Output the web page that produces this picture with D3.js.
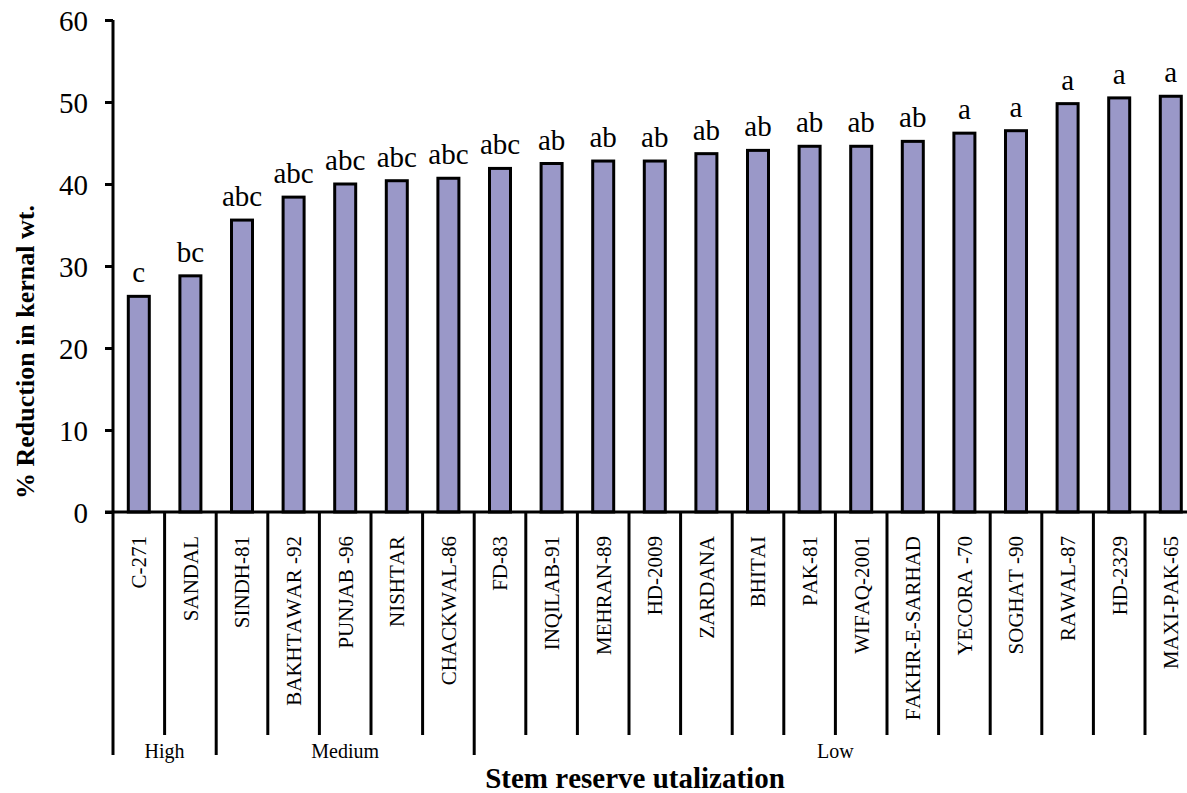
<!DOCTYPE html>
<html>
<head>
<meta charset="utf-8">
<script src="https://cdn.jsdelivr.net/npm/d3@7"></script>
<style>
  body { margin: 0; background: #fff; }
  text { font-family: "Liberation Serif", "Times New Roman", serif; fill: #000; font-kerning: none; }
</style>
</head>
<body>
<svg id="drawing_region"></svg>
<script>
// values
const cultivars = ["C-271", "SANDAL", "SINDH-81", "BAKHTAWAR -92", "PUNJAB -96", "NISHTAR",
  "CHACKWAL-86", "FD-83", "INQILAB-91", "MEHRAN-89", "HD-2009", "ZARDANA", "BHITAI",
  "PAK-81", "WIFAQ-2001", "FAKHR-E-SARHAD", "YECORA -70", "SOGHAT -90", "RAWAL-87",
  "HD-2329", "MAXI-PAK-65"];
const reduction = [26.3, 28.8, 35.6, 38.4, 40.0, 40.4, 40.7, 41.9, 42.5, 42.8, 42.8,
  43.7, 44.1, 44.6, 44.6, 45.2, 46.2, 46.5, 49.8, 50.5, 50.7];
const letters = ["c", "bc", "abc", "abc", "abc", "abc", "abc", "abc", "ab", "ab", "ab",
  "ab", "ab", "ab", "ab", "ab", "a", "a", "a", "a", "a"];
const groups = ["High", "Medium", "Low"];
const groupSizes = [2, 5, 14];
const yTicks = [0, 10, 20, 30, 40, 50, 60];

const config = {
  width: 1187,
  height: 793,
  left: 113,
  top: 20,
  bottom: 512,
  step: 51.6,
  barWidth: 21
};

const svg = d3.select('#drawing_region')
  .attr('width', config.width)
  .attr('height', config.height);

const xscale = d3.scaleBand()
  .domain(cultivars)
  .range([config.left, config.left + config.step * cultivars.length]);

const yscale = d3.scaleLinear()
  .domain([0, 60])
  .range([config.bottom, config.top]);

// bars
svg.selectAll('.bar')
  .data(cultivars)
  .join('rect')
  .attr('class', 'bar')
  .attr('x', d => xscale(d) + (xscale.bandwidth() - config.barWidth) / 2)
  .attr('y', (d, i) => yscale(reduction[i]))
  .attr('width', config.barWidth)
  .attr('height', (d, i) => yscale(0) - yscale(reduction[i]))
  .attr('fill', '#9a98c8')
  .attr('stroke', '#000')
  .attr('stroke-width', 3);

// significance letters
svg.selectAll('.letter')
  .data(cultivars)
  .join('text')
  .attr('class', 'letter')
  .attr('x', d => xscale(d) + xscale.bandwidth() / 2)
  .attr('y', (d, i) => yscale(reduction[i]) - 14)
  .attr('text-anchor', 'middle')
  .style('font-size', '29px')
  .text((d, i) => letters[i]);

// y axis
const yaxis = d3.axisLeft(yscale)
  .tickValues(yTicks)
  .tickSize(8)
  .tickPadding(17);

const yaxis_group = svg.append('g')
  .attr('transform', `translate(${config.left}, 0)`)
  .call(yaxis);
yaxis_group.select('.domain').attr('stroke-width', 3).attr('d', `M0,${config.top}V${config.bottom}`);
yaxis_group.selectAll('.tick line').attr('stroke-width', 3);
yaxis_group.selectAll('.tick text')
  .style('font-size', '29px')
  .style('font-family', '"Liberation Serif", serif')
  .attr('dy', '0.35em');

// x axis line
svg.append('line')
  .attr('x1', config.left - 8)
  .attr('x2', config.width)
  .attr('y1', yscale(0))
  .attr('y2', yscale(0))
  .attr('stroke', '#000')
  .attr('stroke-width', 3);

// category separators (long ones at group borders)
const borders = [0];
groupSizes.reduce((acc, n) => { borders.push(acc + n); return acc + n; }, 0);
const sepIndex = d3.range(cultivars.length + 1);
svg.selectAll('.sep')
  .data(sepIndex)
  .join('line')
  .attr('class', 'sep')
  .attr('x1', i => config.left + i * xscale.step())
  .attr('x2', i => config.left + i * xscale.step())
  .attr('y1', yscale(0))
  .attr('y2', i => borders.includes(i) ? 755 : 735)
  .attr('stroke', '#000')
  .attr('stroke-width', 3);

// category labels
svg.selectAll('.cat')
  .data(cultivars)
  .join('text')
  .attr('class', 'cat')
  .attr('transform', d => `translate(${xscale(d) + xscale.bandwidth() / 2}, 536) rotate(-90)`)
  .attr('text-anchor', 'end')
  .attr('dy', '0.35em')
  .style('font-size', '21px')
  .text(d => d);

// group labels
svg.selectAll('.grp')
  .data(groups)
  .join('text')
  .attr('class', 'grp')
  .attr('x', (d, i) => config.left + (borders[i] + borders[i + 1]) / 2 * xscale.step())
  .attr('y', 758)
  .attr('text-anchor', 'middle')
  .style('font-size', '20px')
  .text(d => d);

// axis titles
svg.append('text')
  .attr('x', 635)
  .attr('y', 788)
  .attr('text-anchor', 'middle')
  .style('font-size', '29px')
  .style('font-weight', 'bold')
  .text('Stem reserve utalization');

svg.append('text')
  .attr('transform', 'translate(34, 352) rotate(-90)')
  .attr('text-anchor', 'middle')
  .style('font-size', '26px')
  .style('font-weight', 'bold')
  .text('% Reduction in kernal wt.');
</script>
</body>
</html>
